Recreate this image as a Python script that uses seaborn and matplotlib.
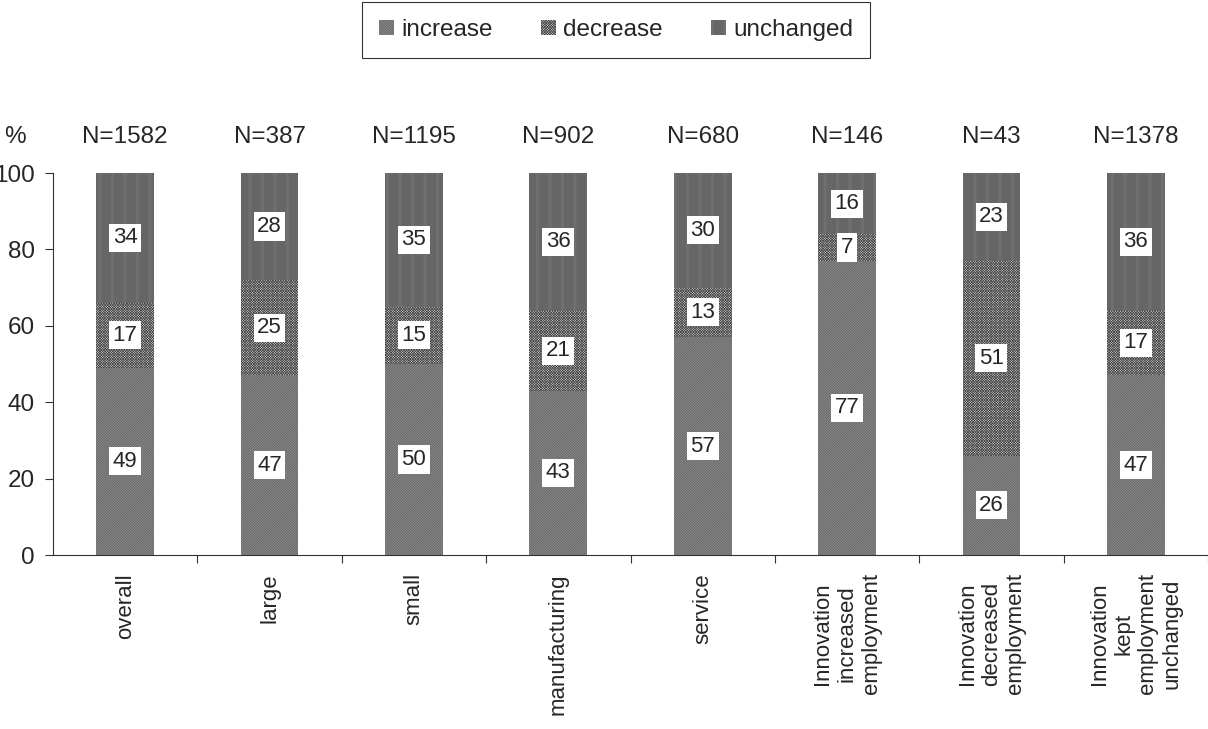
import numpy as np
import pandas as pd
import matplotlib
matplotlib.use("Agg")
import matplotlib.pyplot as plt
from matplotlib.patches import Patch
import seaborn as sns

# ── data ──────────────────────────────────────────────────────────────────────
categories = ["overall", "large", "small", "manufacturing", "service",
              "Innovation\nincreased\nemployment",
              "Innovation\ndecreased\nemployment",
              "Innovation\nkept\nemployment\nunchanged"]
n_labels  = ["N=1582", "N=387", "N=1195", "N=902", "N=680", "N=146", "N=43", "N=1378"]
increase  = [49, 47, 50, 43, 57, 77, 26, 47]
decrease  = [17, 25, 15, 21, 13, 7, 51, 17]
unchanged = [34, 28, 35, 36, 30, 16, 23, 36]

sns.set_style("ticks")
plt.rcParams["font.family"] = ["Liberation Sans", "DejaVu Sans"]
plt.rcParams["hatch.linewidth"] = 0.5

df = pd.DataFrame({"cat": categories, "increase": increase,
                   "decrease": decrease, "unchanged": unchanged})
df["lvl2"] = df["increase"] + df["decrease"]
df["lvl3"] = df["lvl2"] + df["unchanged"]

# name -> (cumulative column, face, hatch colour, hatch)
styles = {
    "unchanged": ("lvl3",     "#c4c4c4", "#4a4a4a", "|" * 18),
    "decrease":  ("lvl2",     "#d4d4d4", "#444444", "x" * 13),
    "increase":  ("increase", "#b4b4b4", "#505050", "/" * 20),
}

fig = plt.figure(figsize=(12.08, 7.29), dpi=100)
ax = fig.add_axes([53 / 1208, 1 - 555 / 729, 1 - 53 / 1208, (555 - 173) / 729])

# stacked by overlaying cumulative totals (top layer first)
for name in ["unchanged", "decrease", "increase"]:
    col, face, hcol, hatch = styles[name]
    sns.barplot(data=df, x="cat", y=col, ax=ax, color=face,
                edgecolor=hcol, linewidth=0, hatch=hatch,
                width=0.4, saturation=1)
if ax.get_legend() is not None:
    ax.get_legend().remove()

# segment labels in white boxes
for i in range(len(categories)):
    segs = [(0, increase[i]), (increase[i], decrease[i]),
            (increase[i] + decrease[i], unchanged[i])]
    for base, h in segs:
        ax.text(i, base + h / 2, f"{h}", ha="center", va="center", fontsize=16,
                bbox=dict(facecolor="white", edgecolor="none", pad=2.5))
    ax.text(i, 109.5, n_labels[i], ha="center", va="center", fontsize=17.5,
            clip_on=False)

fig.text(15 / 1208, 1 - 137 / 729, "%", ha="center", va="center", fontsize=17.5)

ax.set_xlim(-0.5, 7.5)
ax.set_ylim(0, 100)
ax.set_yticks([0, 20, 40, 60, 80, 100])
ax.set_xlabel("")
ax.set_ylabel("")
ax.set_xticks(range(len(categories)))
ax.set_xticklabels(categories, rotation=90, ha="center", va="top",
                   multialignment="center", fontsize=16)
ax.tick_params(axis="x", which="major", length=0, pad=13)
ax.set_xticks(np.arange(0.5, 8, 1), minor=True)
ax.tick_params(axis="x", which="minor", length=6, width=0.8, color="#333333")
ax.tick_params(axis="y", length=6, width=0.8, color="#333333", pad=7, labelsize=17.5)
for s in ["top", "right"]:
    ax.spines[s].set_visible(False)
for s in ["left", "bottom"]:
    ax.spines[s].set_linewidth(0.8)
    ax.spines[s].set_color("#333333")

leg_order = ["increase", "decrease", "unchanged"]
handles = [Patch(facecolor=styles[k][1], edgecolor=styles[k][2], linewidth=0,
                 hatch=styles[k][3]) for k in leg_order]
leg = fig.legend(handles, leg_order,
                 loc="center", bbox_to_anchor=(616 / 1208, 1 - 30 / 729),
                 ncol=3, fontsize=17.5, frameon=True, fancybox=False,
                 handlelength=0.6, handleheight=0.6, handletextpad=0.3,
                 columnspacing=2.0, borderpad=0.7)
leg.get_frame().set_edgecolor("black")
leg.get_frame().set_linewidth(0.8)

fig.savefig("out.png", dpi=100)
